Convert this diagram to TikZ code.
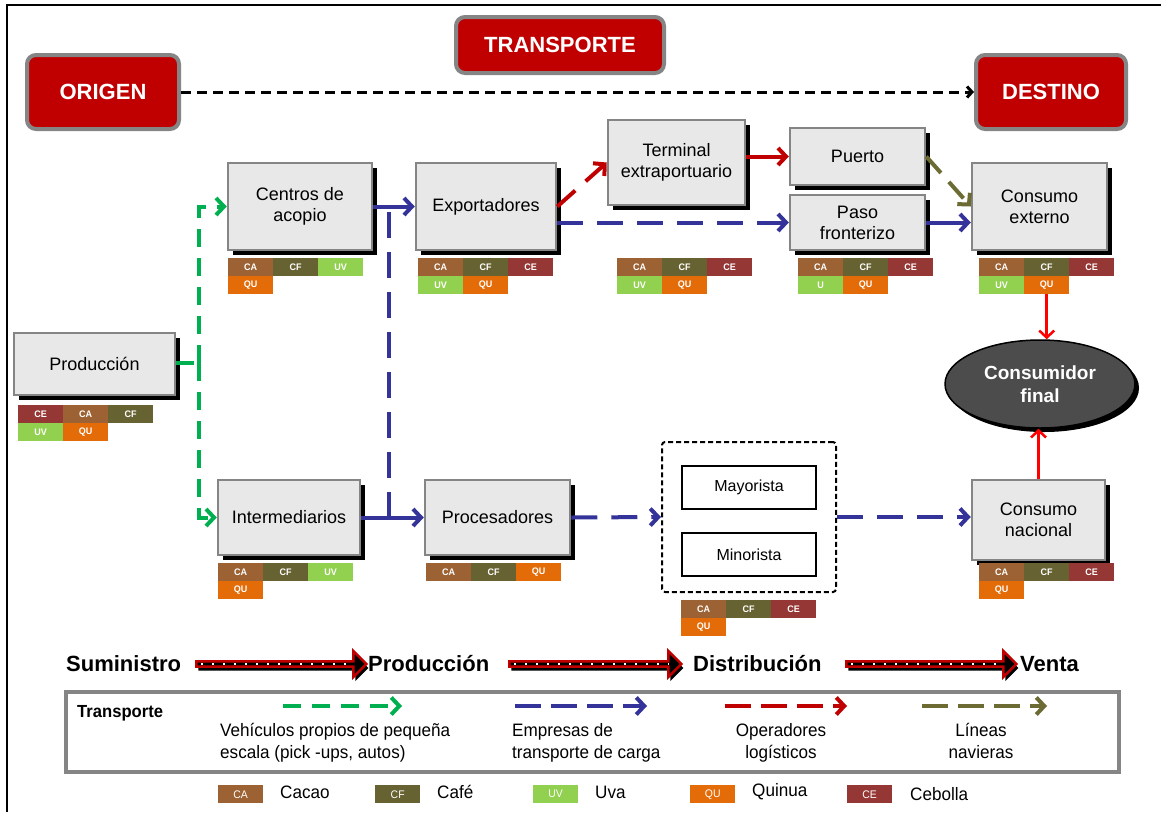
\documentclass[tikz,border=0pt]{standalone}
\usepackage{fontspec}
\setmainfont{Liberation Sans}
\newfontfamily\narrowfont[FakeStretch=0.95]{Liberation Sans}
\usetikzlibrary{arrows.meta,shapes.geometric,shapes.arrows,shadows,calc}
\definecolor{cCA}{HTML}{9C6233}
\definecolor{cCF}{HTML}{676232}
\definecolor{cUV}{HTML}{92D050}
\definecolor{cQU}{HTML}{E36C09}
\definecolor{cCE}{HTML}{953735}
\definecolor{hdrred}{HTML}{C00000}
\definecolor{cgreen}{HTML}{00B050}
\definecolor{cblue}{HTML}{333399}
\definecolor{cred}{HTML}{C00000}
\definecolor{brightred}{HTML}{FF0000}
\definecolor{colive}{HTML}{6B6B33}
\definecolor{boxfill}{HTML}{E8E8E8}
\definecolor{boxline}{HTML}{858585}
\newcommand\mktag[5]{\node[tagb,fill=c#4] (#1) at (#2,#3) {#5};}
\newcommand\lgtag[5]{\node[lgb,fill=c#4] (#1) at (#2,#3) {#5};}
\begin{document}
\begin{tikzpicture}[x=1pt,y=-1pt,
  >={Straight Barb[length=8pt,width=17pt]},
  hdr/.style={rounded corners=9pt, fill=hdrred, draw=boxline, line width=4pt,
    text=white, font=\fontsize{22}{24}\selectfont\bfseries, inner sep=0},
  procbox/.style={rectangle, draw=boxline, line width=2.5pt, fill=boxfill, align=center,
    font=\fontsize{18}{21}\selectfont, inner sep=0,
    drop shadow={shadow xshift=5pt, shadow yshift=-5pt, fill=black, opacity=1}},
  tagb/.style={minimum width=45pt, minimum height=18pt, inner sep=0, anchor=north west,
    text=white, font=\narrowfont\fontsize{9.5}{9.5}\selectfont\bfseries},
  lgb/.style={minimum width=45pt, minimum height=18pt, inner sep=0, anchor=north west,
    text=white, font=\narrowfont\fontsize{11}{11}\selectfont},
  gdash/.style={cgreen, line width=4pt, dash pattern=on 18pt off 11pt},
  bdash/.style={cblue, line width=4pt, dash pattern=on 26pt off 14pt},
  rdash/.style={cred, line width=4pt, dash pattern=on 24pt off 14pt},
  odash/.style={colive, line width=4pt, dash pattern=on 22pt off 12pt},
  bsolid/.style={cblue, line width=4pt},
  rsolid/.style={cred, line width=4pt},
  bright/.style={brightred, line width=2.5pt, >={Straight Barb[length=7pt,width=15pt]}},
  parrow/.style={single arrow, draw=cred, fill=black, line width=2.5pt, minimum width=26pt,
    single arrow head extend=5pt, inner sep=0,
    drop shadow={shadow xshift=2pt, shadow yshift=-4pt, fill=black, opacity=1}},
  stage/.style={font=\fontsize{22}{24}\selectfont\bfseries, inner sep=0},
  lgtext/.style={font=\narrowfont\fontsize{18}{22}\selectfont, inner sep=0},
  smallbox/.style={draw=black, line width=2pt, fill=white, minimum width=134pt, minimum height=43pt,
    font=\fontsize{16}{18}\selectfont, inner sep=0}
]
\useasboundingbox (0,0) rectangle (1161,812);
\fill[white] (0,0) rectangle (1161,812);
\draw[line width=2.5pt] (7,812) -- (7,5) -- (1161,5);

% header boxes
\node[hdr, minimum width=152pt, minimum height=74pt] (origen) at (103,92) {ORIGEN};
\node[hdr, minimum width=208pt, minimum height=56pt] (transp) at (560,45) {TRANSPORTE};
\node[hdr, minimum width=150pt, minimum height=74pt] (destino) at (1051,92) {DESTINO};
\draw[line width=3pt, dash pattern=on 10pt off 6pt, ->, >={Straight Barb[length=5pt,width=11pt]}]
  (origen.east) -- (destino.west);

% process boxes
\node[procbox, minimum width=144pt, minimum height=87pt] (centros) at (300,206.5) {Centros de\\acopio};
\node[procbox, minimum width=140pt, minimum height=87pt] (export) at (486,206.5) {Exportadores};
\node[procbox, minimum width=137pt, minimum height=85pt] (term) at (676.5,162.5) {Terminal\\extraportuario};
\node[procbox, minimum width=135pt, minimum height=57pt] (puerto) at (857.5,156.5) {Puerto};
\node[procbox, minimum width=135pt, minimum height=55pt] (paso) at (857.5,222.5) {Paso\\fronterizo};
\node[procbox, minimum width=135pt, minimum height=87pt] (cext) at (1039.5,206.5) {Consumo\\externo};
\node[procbox, minimum width=161pt, minimum height=62pt] (prod) at (94.5,364) {Producción};
\node[procbox, minimum width=142pt, minimum height=75pt] (inter) at (289,517.5) {Intermediarios};
\node[procbox, minimum width=145pt, minimum height=75pt] (procs) at (497.5,517.5) {Procesadores};
\node[procbox, minimum width=133pt, minimum height=80pt] (cnac) at (1038.5,520) {Consumo\\nacional};

% distribution container
\node[draw=black, line width=2pt, dash pattern=on 5pt off 3pt, rounded corners=3pt,
  minimum width=174pt, minimum height=150pt, inner sep=0] (cont) at (749,517) {};
\node[smallbox] (mayor) at (749,487.5) {Mayorista};
\node[smallbox] (minor) at (749,554.5) {Minorista};

% final consumer
\node[ellipse, draw=black, line width=1.5pt, fill=black!70, minimum width=190pt, minimum height=88pt,
  text=white, align=center, font=\fontsize{19}{23}\selectfont\bfseries, inner sep=0,
  drop shadow={shadow xshift=4pt, shadow yshift=-4pt, fill=black, opacity=1}] (ell) at (1040,384) {Consumidor\\final};

% tags
\mktag{ca1}{228}{258}{CA}{CA}
\mktag{cf1}{273}{258}{CF}{CF}
\mktag{uv1}{318}{258}{UV}{UV}
\mktag{qu1}{228}{276}{QU}{QU}
\mktag{ca2}{418}{258}{CA}{CA}
\mktag{cf2}{463}{258}{CF}{CF}
\mktag{ce2}{508}{258}{CE}{CE}
\mktag{uv2}{418}{276}{UV}{UV}
\mktag{qu2}{463}{276}{QU}{QU}
\mktag{ca3}{617}{258}{CA}{CA}
\mktag{cf3}{662}{258}{CF}{CF}
\mktag{ce3}{707}{258}{CE}{CE}
\mktag{uv3}{617}{276}{UV}{UV}
\mktag{qu3}{662}{276}{QU}{QU}
\mktag{ca4}{798}{258}{CA}{CA}
\mktag{cf4}{843}{258}{CF}{CF}
\mktag{ce4}{888}{258}{CE}{CE}
\mktag{uv4}{798}{276}{UV}{U}
\mktag{qu4}{843}{276}{QU}{QU}
\mktag{ca5}{979}{258}{CA}{CA}
\mktag{cf5}{1024}{258}{CF}{CF}
\mktag{ce5}{1069}{258}{CE}{CE}
\mktag{uv5}{979}{276}{UV}{UV}
\mktag{qu5}{1024}{276}{QU}{QU}
\mktag{ce6}{18}{405}{CE}{CE}
\mktag{ca6}{63}{405}{CA}{CA}
\mktag{cf6}{108}{405}{CF}{CF}
\mktag{uv6}{18}{423}{UV}{UV}
\mktag{qu6}{63}{423}{QU}{QU}
\mktag{ca7}{218}{563}{CA}{CA}
\mktag{cf7}{263}{563}{CF}{CF}
\mktag{uv7}{308}{563}{UV}{UV}
\mktag{qu7}{218}{581}{QU}{QU}
\mktag{ca8}{426}{563}{CA}{CA}
\mktag{cf8}{471}{563}{CF}{CF}
\mktag{qu8}{516}{563}{QU}{QU}
\mktag{ca9}{681}{600}{CA}{CA}
\mktag{cf9}{726}{600}{CF}{CF}
\mktag{ce9}{771}{600}{CE}{CE}
\mktag{qu9}{681}{618}{QU}{QU}
\mktag{ca10}{979}{563}{CA}{CA}
\mktag{cf10}{1024}{563}{CF}{CF}
\mktag{ce10}{1069}{563}{CE}{CE}
\mktag{qu10}{979}{581}{QU}{QU}

% connectors
\coordinate (gj) at (199,363);
\draw[gdash] (prod.east |- gj) -- (gj);
\draw[gdash, ->] (gj) -- (gj |- centros.west) -- (centros.west);
\draw[gdash, ->] (gj) -- (gj |- inter.west) -- (inter.west);

\coordinate (bjt) at (389,206.5);
\coordinate (bjb) at (389,517.5);
\draw[bsolid, ->] (centros.east) -- (export.west);
\draw[bsolid, ->] (inter.east) -- (procs.west);
\draw[bdash] (bjb) -- (bjt);

\draw[rdash, ->] (export.east) -- (term.west);
\coordinate (eb) at ($(export.east)+(0,16)$);
\draw[bdash, ->] (eb) -- (eb -| paso.west);
\draw[rsolid, ->] (term.east |- puerto.west) -- (puerto.west);
\draw[odash, ->] (puerto.east) -- (cext.west);
\draw[bsolid, ->] (paso.east) -- (paso.east -| cext.west);

\draw[bdash, ->] (procs.east) -- (cont.west);
\draw[bdash, ->] (cont.east) -- (cont.east -| cnac.west);

\draw[bright, ->] (qu5.south) -- (qu5.south |- ell.north);
\draw[bright, ->] (cnac.north) -- (cnac.north |- ell.south);

% stages
\node[stage, anchor=west] (s1) at (66,664) {Suministro};
\node[stage, anchor=west] (s2) at (368,664) {Producción};
\node[stage, anchor=west] (s3) at (693,664) {Distribución};
\node[stage, anchor=west] (s4) at (1020,664) {Venta};
\node[parrow, minimum height=170pt] (pa1) at (280,664) {};
\node[parrow, minimum height=172pt] (pa2) at (594,664) {};
\node[parrow, minimum height=170pt] (pa3) at (930,664) {};
\foreach \a in {pa1,pa2,pa3}{
  \draw[white, line width=1.2pt, dash pattern=on 2pt off 9pt] ($(\a.west)+(6,0)$) -- ($(\a.tip)+(-14,0)$);
}

% transport legend
\node[draw=boxline, fill=white, line width=4pt, minimum width=1053pt, minimum height=80pt, anchor=north west, inner sep=0,
  drop shadow={shadow xshift=2pt, shadow yshift=-2pt, fill=black!30, opacity=1}] (legend) at (64,690) {};
\node[lgtext, anchor=west, font=\narrowfont\fontsize{17.5}{20}\selectfont\bfseries] (lt) at (77,713) {Transporte};
\coordinate (l1a) at (283,706); \coordinate (l1b) at (402,706);
\coordinate (l2a) at (515,706); \coordinate (l2b) at (647,706);
\coordinate (l3a) at (725,706); \coordinate (l3b) at (847,706);
\coordinate (l4a) at (922,706); \coordinate (l4b) at (1047,706);
\draw[gdash, ->] (l1a) -- (l1b);
\draw[bdash, dash pattern=on 26pt off 10pt, ->] (l2a) -- (l2b);
\draw[rdash, dash pattern=on 26pt off 10pt, ->] (l3a) -- (l3b);
\draw[odash, dash pattern=on 26pt off 10pt, ->] (l4a) -- (l4b);
\node[lgtext, anchor=north west, align=left] (lx1) at (220,723) {Vehículos propios de pequeña\\escala (pick -ups, autos)};
\node[lgtext, anchor=north west, align=left] (lx2) at (512,723) {Empresas de\\transporte de carga};
\node[lgtext, anchor=north, align=center] (lx3) at (781,723) {Operadores\\logísticos};
\node[lgtext, anchor=north, align=center] (lx4) at (981,723) {Líneas\\navieras};

% product legend
\lgtag{lca}{218}{785}{CA}{CA}
\lgtag{lcf}{375}{785}{CF}{CF}
\lgtag{luv}{533}{785}{UV}{UV}
\lgtag{lqu}{690}{785}{QU}{QU}
\lgtag{lce}{847}{785}{CE}{CE}
\node[lgtext, anchor=west] (tca) at (280,792) {Cacao};
\node[lgtext, anchor=west] (tcf) at (437,792) {Café};
\node[lgtext, anchor=west] (tuv) at (595,792) {Uva};
\node[lgtext, anchor=west] (tqu) at (752,792) {Quinua};
\node[lgtext, anchor=west] (tce) at (910,794) {Cebolla};
\end{tikzpicture}
\end{document}
